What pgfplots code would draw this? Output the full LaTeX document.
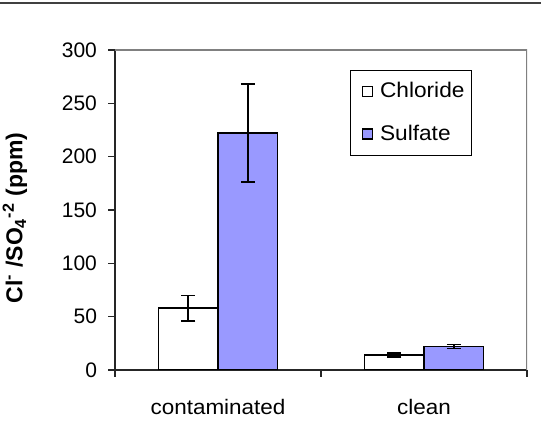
\documentclass[border=0pt]{standalone}
\usepackage{fontspec}
\setmainfont{Liberation Sans}
\newfontfamily\labelfont[FakeStretch=1.07]{Liberation Sans}
\usepackage{pgfplots}
\pgfplotsset{compat=1.18}
\definecolor{sulfate}{RGB}{153,153,255}
\definecolor{framegray}{RGB}{128,128,128}

\begin{document}
\begin{tikzpicture}
\begin{axis}[
  at={(57.5pt,39pt)}, anchor=south west,
  scale only axis, width=206pt, height=160pt,
  xmin=0, xmax=2, ymin=0, ymax=300,
  ytick={0,50,...,300},
  xtick={0,1,2}, xticklabels={},
  extra x ticks={0.5,1.5},
  extra x tick labels={contaminated,clean},
  extra x tick style={major tick length=0pt,
    tick label style={font=\labelfont\fontsize{10.5}{12}\selectfont, yshift=-11pt}},
  axis x line*=bottom, axis y line*=left,
  axis line style={-, black!85, line width=0.7pt},
  tick style={black!85, line width=0.7pt},
  tick align=outside, major tick length=3.5pt,
  /pgf/number format/assume math mode=true,
  yticklabel style={font=\fontsize{10.5}{12}\selectfont, xshift=-2pt},
  ylabel={\bfseries Cl\textsuperscript{-} /SO\textsubscript{4}\textsuperscript{-2} (ppm)},
  ylabel style={font=\fontsize{11.5}{13}\selectfont, at={(axis description cs:-0.243,0.475)}, anchor=center},
  ybar=0pt, bar width=29.75pt,
  legend style={at={(0.8665,0.9375)}, anchor=north east, draw=black, line width=0.5pt,
    fill=white, font=\labelfont\fontsize{10.6}{12.5}\selectfont, row sep=8pt,
    inner xsep=3.5pt, inner ysep=4pt, nodes={inner xsep=0pt}},
  legend cell align=left,
  legend image code/.code={\path (-2pt,0pt);
    \draw[#1, line width=0.6pt] (0pt,-2.5pt) rectangle (5pt,2.5pt);
    \path (8.5pt,0pt);},
]
\draw[framegray, line width=0.6pt] (rel axis cs:0,1) -- (rel axis cs:1,1) -- (rel axis cs:1,0);
\addplot[fill=white, draw=black, line width=0.8pt,
  error bars/.cd, y dir=both, y explicit,
  error bar style={black, line width=0.8pt},
  error mark options={rotate=90, mark size=3.5pt, black, line width=0.8pt}]
  coordinates {(0.5,58) +- (0,12) (1.5,14) +- (0,2)};
\addlegendentry{Chloride}
\addplot[fill=sulfate, draw=black, line width=0.8pt,
  error bars/.cd, y dir=both, y explicit,
  error bar style={black, line width=0.8pt},
  error mark options={rotate=90, mark size=3.5pt, black, line width=0.8pt}]
  coordinates {(0.5,222) +- (0,46) (1.5,22) +- (0,2)};
\addlegendentry{Sulfate}
\end{axis}
\draw[black!75, line width=1pt] (0pt,222.5pt) -- (270.5pt,222.5pt);
\pgfresetboundingbox
\path[use as bounding box] (0pt,0pt) rectangle (270.5pt,224pt);
\end{tikzpicture}
\end{document}
